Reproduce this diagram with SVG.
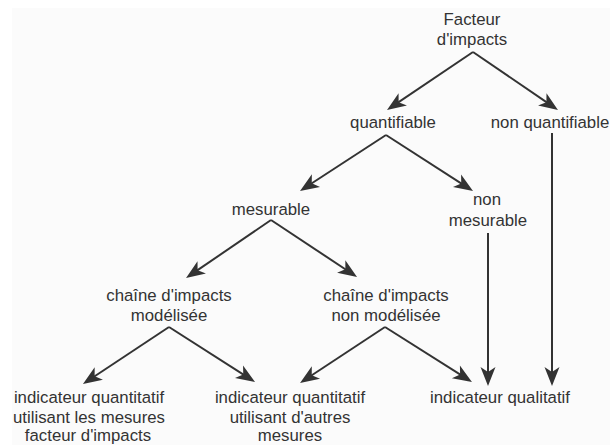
<svg xmlns="http://www.w3.org/2000/svg" width="610" height="445" viewBox="0 0 610 445">
<style>
text{font-family:"Liberation Sans",Arial,sans-serif;font-size:16.8px;fill:#333;text-anchor:middle}
.c line{stroke:#333;stroke-width:2;marker-end:url(#ah)}
</style>
<defs>
<marker id="ah" markerUnits="userSpaceOnUse" markerWidth="40" markerHeight="40" refX="0" refY="0" orient="auto" overflow="visible">
<path d="M10,0 L-9,-7.5 L-4,0 L-9,7.5 Z" fill="#333"/>
</marker>
</defs>
<rect width="610" height="445" fill="#fff"/>
<rect x="12" y="8" width="598" height="437" fill="#fbfbfb"/>
<g id="connectors" class="c">
<line x1="473" y1="52" x2="395.3" y2="104.4"/>
<line x1="473" y1="52" x2="549.7" y2="104.4"/>
<line x1="386" y1="135" x2="308.4" y2="185.5"/>
<line x1="386" y1="135" x2="464.6" y2="185.6"/>
<line x1="271" y1="220" x2="194.3" y2="272.4"/>
<line x1="271" y1="220" x2="348.7" y2="271.5"/>
<line x1="169" y1="327" x2="91.3" y2="378.5"/>
<line x1="169" y1="327" x2="246.6" y2="376.6"/>
<line x1="385" y1="327" x2="308.4" y2="377.5"/>
<line x1="385" y1="327" x2="463.5" y2="376.7"/>
<line x1="488" y1="233" x2="488" y2="376"/>
<line x1="552" y1="133" x2="552" y2="376"/>
</g>
<g id="facteur"><text x="472" y="25">Facteur</text><text x="472" y="45">d'impacts</text></g>
<g id="quantifiable"><text x="393" y="128">quantifiable</text></g>
<g id="nonquantifiable"><text x="550" y="128">non quantifiable</text></g>
<g id="mesurable"><text x="271" y="215">mesurable</text></g>
<g id="nonmesurable"><text x="487" y="205">non</text><text x="488" y="225.5">mesurable</text></g>
<g id="modelisee"><text x="169" y="301">chaîne d'impacts</text><text x="169" y="321">modélisée</text></g>
<g id="nonmodelisee"><text x="386" y="301">chaîne d'impacts</text><text x="386" y="321">non modélisée</text></g>
<g id="indicateur1"><text x="89" y="403">indicateur quantitatif</text><text x="89" y="422.5">utilisant les mesures</text><text x="88" y="441">facteur d'impacts</text></g>
<g id="indicateur2"><text x="290" y="403">indicateur quantitatif</text><text x="290" y="422.5">utilisant d'autres</text><text x="290" y="441">mesures</text></g>
<g id="qualitatif"><text x="500" y="403">indicateur qualitatif</text></g>
</svg>
